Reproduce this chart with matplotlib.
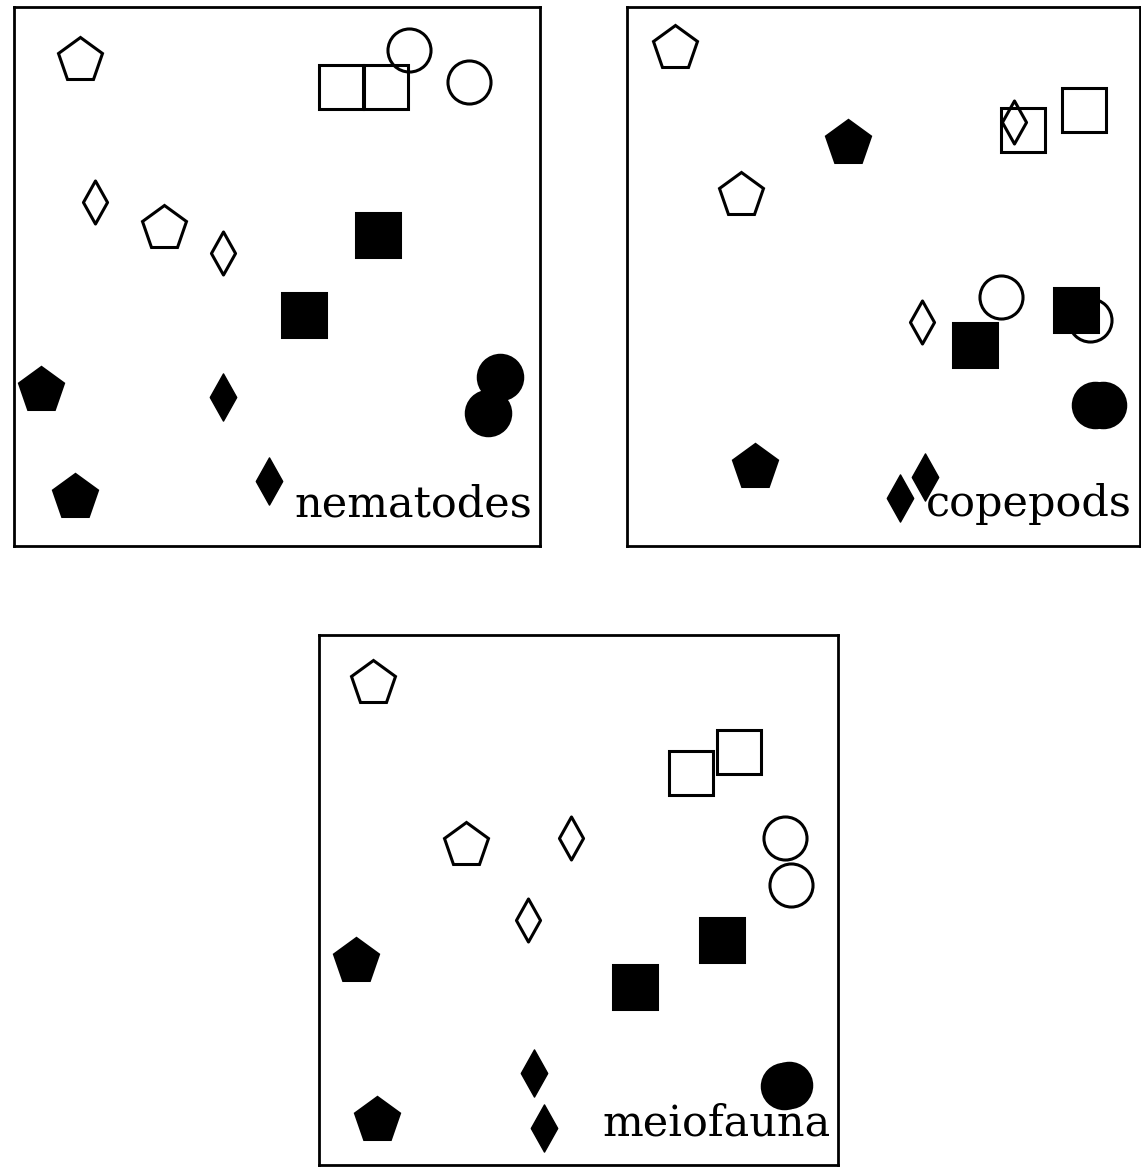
import matplotlib.pyplot as plt
from matplotlib.path import Path

# MDS ordination coordinates (arbitrary units), one pair of lists per group
# panel 1: nematodes
nem_open_pent_x, nem_open_pent_y = [66, 150], [486, 318]
nem_fill_pent_x, nem_fill_pent_y = [27, 61], [156, 49]
nem_open_sq_x, nem_open_sq_y = [327, 372], [459, 459]
nem_fill_sq_x, nem_fill_sq_y = [364, 290], [311, 231]
nem_open_dia_x, nem_open_dia_y = [81, 209], [344, 293]
nem_fill_dia_x, nem_fill_dia_y = [209, 255], [149, 65]
nem_open_circ_x, nem_open_circ_y = [395, 455], [496, 464]
nem_fill_circ_x, nem_fill_circ_y = [486, 474], [169, 133]

# panel 2: copepods
cop_open_pent_x, cop_open_pent_y = [48, 114], [498, 351]
cop_fill_pent_x, cop_fill_pent_y = [221, 128], [403, 79]
cop_open_sq_x, cop_open_sq_y = [396, 457], [416, 436]
cop_fill_sq_x, cop_fill_sq_y = [449, 348], [236, 201]
cop_open_dia_x, cop_open_dia_y = [387, 295], [424, 224]
cop_fill_dia_x, cop_fill_dia_y = [273, 298], [48, 69]
cop_open_circ_x, cop_open_circ_y = [374, 463], [249, 226]
cop_fill_circ_x, cop_fill_circ_y = [468, 476], [141, 141]

# panel 3: meiofauna
mei_open_pent_x, mei_open_pent_y = [54, 147], [482, 320]
mei_fill_pent_x, mei_fill_pent_y = [37, 58], [204, 45]
mei_open_sq_x, mei_open_sq_y = [372, 420], [392, 413]
mei_fill_sq_x, mei_fill_sq_y = [403, 316], [225, 178]
mei_open_dia_x, mei_open_dia_y = [252, 209], [327, 245]
mei_fill_dia_x, mei_fill_dia_y = [215, 225], [92, 37]
mei_open_circ_x, mei_open_circ_y = [466, 472], [327, 280]
mei_fill_circ_x, mei_fill_circ_y = [465, 470], [79, 80]

labels = ["nematodes", "copepods", "meiofauna"]

W, H = 1141, 1167
fig = plt.figure(figsize=(W / 100, H / 100), dpi=100)

# panel boxes in pixels: left, top, right, bottom
boxes = [(14, 7, 540, 546), (627, 7, 1140, 546), (319, 635, 838, 1165)]

diamond = Path([(0, 1), (0.56, 0), (0, -1), (-0.56, 0), (0, 1)],
               [Path.MOVETO, Path.LINETO, Path.LINETO, Path.LINETO, Path.CLOSEPOLY])

panels = [
    dict(op=(nem_open_pent_x, nem_open_pent_y), fp=(nem_fill_pent_x, nem_fill_pent_y),
         os=(nem_open_sq_x, nem_open_sq_y), fs=(nem_fill_sq_x, nem_fill_sq_y),
         od=(nem_open_dia_x, nem_open_dia_y), fd=(nem_fill_dia_x, nem_fill_dia_y),
         oc=(nem_open_circ_x, nem_open_circ_y), fc=(nem_fill_circ_x, nem_fill_circ_y)),
    dict(op=(cop_open_pent_x, cop_open_pent_y), fp=(cop_fill_pent_x, cop_fill_pent_y),
         os=(cop_open_sq_x, cop_open_sq_y), fs=(cop_fill_sq_x, cop_fill_sq_y),
         od=(cop_open_dia_x, cop_open_dia_y), fd=(cop_fill_dia_x, cop_fill_dia_y),
         oc=(cop_open_circ_x, cop_open_circ_y), fc=(cop_fill_circ_x, cop_fill_circ_y)),
    dict(op=(mei_open_pent_x, mei_open_pent_y), fp=(mei_fill_pent_x, mei_fill_pent_y),
         os=(mei_open_sq_x, mei_open_sq_y), fs=(mei_fill_sq_x, mei_fill_sq_y),
         od=(mei_open_dia_x, mei_open_dia_y), fd=(mei_fill_dia_x, mei_fill_dia_y),
         oc=(mei_open_circ_x, mei_open_circ_y), fc=(mei_fill_circ_x, mei_fill_circ_y)),
]

styles = {
    'op': dict(marker='p', ms=33, mfc='white', mec='black', mew=2.2),
    'fp': dict(marker='p', ms=33, mfc='black', mec='black', mew=2.2),
    'os': dict(marker='s', ms=31, mfc='none', mec='black', mew=2.2),
    'fs': dict(marker='s', ms=31, mfc='black', mec='black', mew=2.2),
    'od': dict(marker=diamond, ms=31, mfc='white', mec='black', mew=2.2),
    'fd': dict(marker=diamond, ms=34, mfc='black', mec='black', mew=1),
    'oc': dict(marker='o', ms=31, mfc='none', mec='black', mew=2.2),
    'fc': dict(marker='o', ms=32, mfc='black', mec='black', mew=2.2),
}

for (l, t, r, b), data, label in zip(boxes, panels, labels):
    ax = fig.add_axes([l / W, 1 - b / H, (r - l) / W, (b - t) / H])
    ax.set_xlim(0, r - l)
    ax.set_ylim(0, b - t)
    for key in ['op', 'fp', 'od', 'fd', 'os', 'fs', 'oc', 'fc']:
        x, y = data[key]
        ax.plot(x, y, ls='none', **styles[key])
    ax.set_xticks([])
    ax.set_yticks([])
    for s in ax.spines.values():
        s.set_linewidth(2)
    ax.text(0.985, 0.055, label, transform=ax.transAxes, ha='right', va='baseline',
            fontsize=31, family='DejaVu Serif')

fig.savefig('out.png', dpi=100)
